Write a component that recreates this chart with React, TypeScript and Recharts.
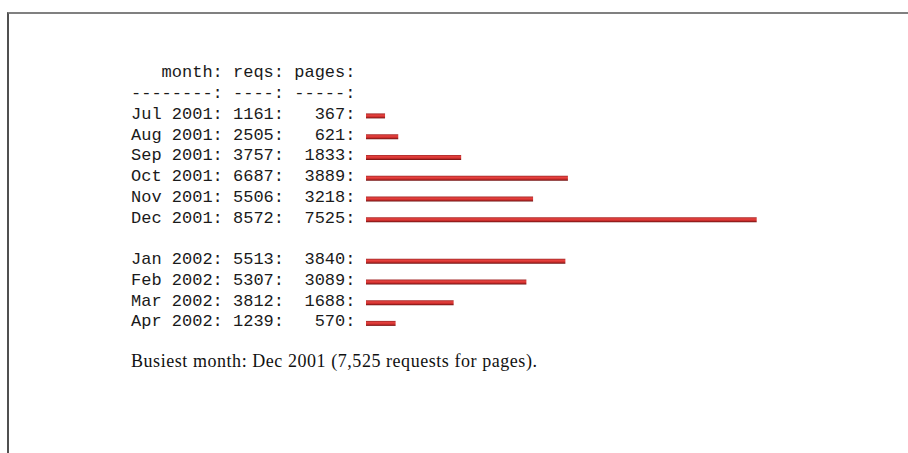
import React from "react";
import { BarChart, Bar, XAxis, YAxis } from "recharts";

const months = ["Jul 2001", "Aug 2001", "Sep 2001", "Oct 2001", "Nov 2001", "Dec 2001", "Jan 2002", "Feb 2002", "Mar 2002", "Apr 2002"];
const reqs = [1161, 2505, 3757, 6687, 5506, 8572, 5513, 5307, 3812, 1239];
const pages = [367, 621, 1833, 3889, 3218, 7525, 3840, 3089, 1688, 570];
const headerLabels = ["month:", "reqs:", "pages:"];

type Row = { key: string; month: string; reqs: number | null; pages: number | null };

const rows: Row[] = [];
months.forEach((m, i) => {
  rows.push({ key: m, month: m, reqs: reqs[i], pages: pages[i] });
  const next = months[i + 1];
  if (next && next.slice(-4) !== m.slice(-4)) {
    rows.push({ key: "gap-" + i, month: "", reqs: null, pages: null });
  }
});

const headerLine =
  headerLabels[0].padStart(9) + " " + headerLabels[1].padStart(5) + " " + headerLabels[2].padStart(6);
const dashLine = "-".repeat(8) + ": " + "-".repeat(4) + ": " + "-".repeat(5) + ":";

const rowText = (r: Row) =>
  r.month + ": " + String(r.reqs).padStart(4) + ": " + String(r.pages).padStart(5) + ":";

const busiestIdx = pages.indexOf(Math.max(...pages));
const footerText = `Busiest month: ${months[busiestIdx]} (${pages[busiestIdx].toLocaleString("en-US")} requests for pages).`;

const MONO = "'Liberation Mono', 'Courier New', monospace";
const SERIF = "'Liberation Serif', 'Times New Roman', serif";
const TEXT_X = 131;

const RowTick = (props: any) => {
  const { y, payload } = props;
  const r = rows.find((d) => d.key === payload.value);
  if (!r || !r.month) return null;
  return (
    <text
      x={TEXT_X}
      y={y + 3}
      textAnchor="start"
      fontFamily={MONO}
      fontSize={17}
      fill="#1a1a1a"
      style={{ whiteSpace: "pre" }}
    >
      {rowText(r)}
    </text>
  );
};

export default function App() {
  return (
    <div style={{ position: "absolute", left: 0, top: 0, width: 908, height: 453, background: "#fff", overflow: "hidden" }}>
      <div
        style={{
          position: "absolute",
          left: 7,
          top: 12,
          width: 901,
          height: 441,
          borderTop: "2px solid #808080",
          borderLeft: "2px solid #505050",
          boxSizing: "border-box",
        }}
      />
      <div style={{ position: "absolute", left: 0, top: 0 }}>
        <BarChart
          width={908}
          height={453}
          layout="vertical"
          data={rows}
          margin={{ top: 105.4, right: 151.3, bottom: 119.35, left: 0 }}
          barCategoryGap={0}
        >
          <defs>
            <linearGradient id="barGrad" x1="0" y1="0" x2="0" y2="1">
              <stop offset="0%" stopColor="#a02828" />
              <stop offset="35%" stopColor="#e8423f" />
              <stop offset="65%" stopColor="#d0302e" />
              <stop offset="100%" stopColor="#701212" />
            </linearGradient>
          </defs>
          <XAxis type="number" dataKey="pages" hide domain={[0, "dataMax"]} />
          <YAxis
            type="category"
            dataKey="key"
            width={366}
            axisLine={false}
            tickLine={false}
            interval={0}
            tick={<RowTick />}
          />
          <Bar dataKey="pages" barSize={5} fill="url(#barGrad)" isAnimationActive={false} />
        </BarChart>
      </div>
      <svg width={908} height={453} style={{ position: "absolute", left: 0, top: 0, pointerEvents: "none" }}>
        <text x={TEXT_X} y={77.3} fontFamily={MONO} fontSize={17} fill="#1a1a1a" style={{ whiteSpace: "pre" }}>
          {headerLine}
        </text>
        <text x={TEXT_X} y={98} fontFamily={MONO} fontSize={17} fill="#1a1a1a" style={{ whiteSpace: "pre" }}>
          {dashLine}
        </text>
        <text x={TEXT_X} y={367} fontFamily={SERIF} fontSize={18} letterSpacing={0.55} fill="#111">
          {footerText}
        </text>
      </svg>
    </div>
  );
}
